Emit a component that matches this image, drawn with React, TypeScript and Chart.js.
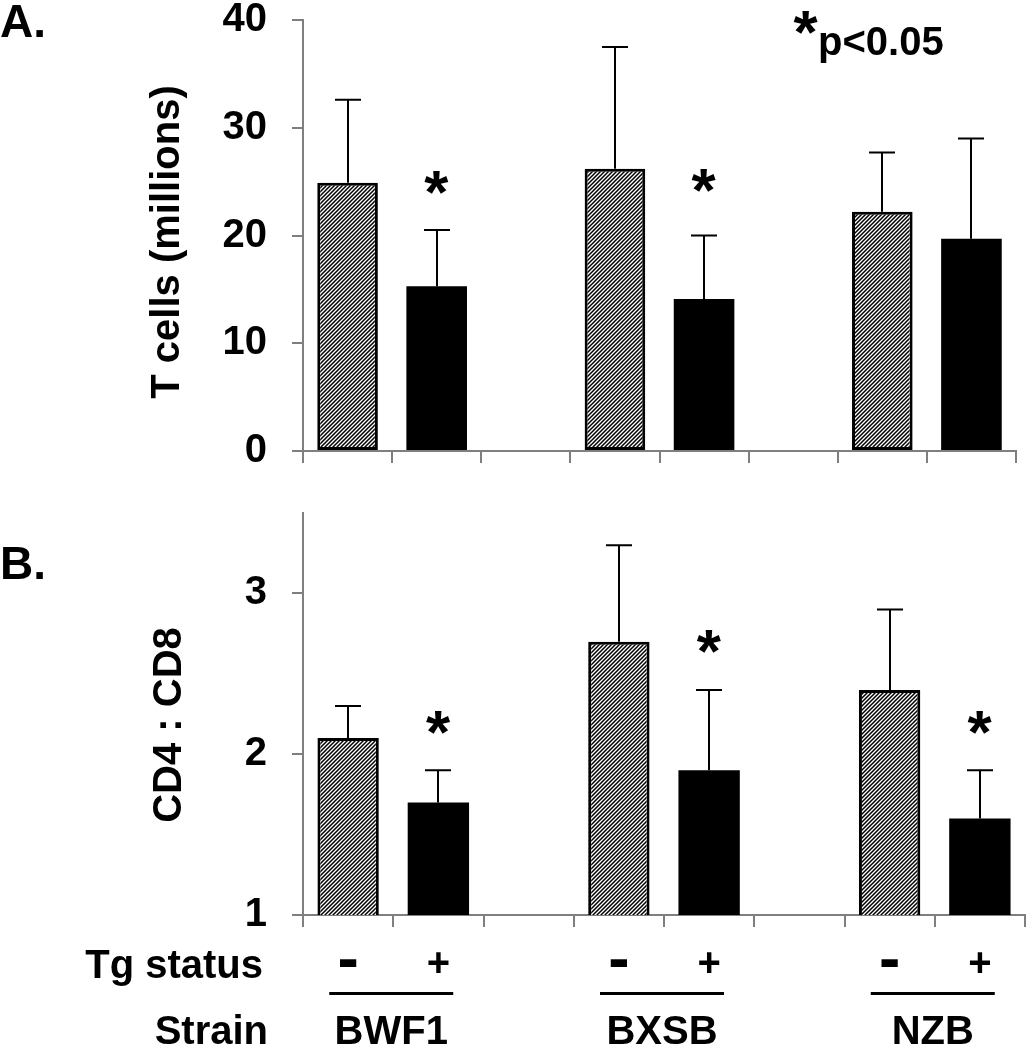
import React, { useEffect, useRef } from "react";
import { Chart, registerables } from "chart.js";

Chart.register(...registerables);

// ---------- data ----------
const strains = ["BWF1", "BXSB", "NZB"];
const tgLabels = ["-", "+", "", "-", "+", "", "-", "+"];

const tCellsMean = [24.9, 15.3, null, 26.2, 14.1, null, 22.2, 19.7];
const tCellsErr = [7.7, 5.2, null, 11.3, 5.9, null, 5.5, 9.3];
const tCellsStar = [null, 24.9, null, null, 25.1, null, null, null];
const tCellsTicks = [0, 10, 20, 30, 40];

const ratioMean = [2.1, 1.7, null, 2.7, 1.9, null, 2.4, 1.6];
const ratioErr = [0.2, 0.2, null, 0.6, 0.5, null, 0.5, 0.3];
const ratioStar = [null, 2.2, null, null, 2.7, null, null, 2.2];
const ratioTicks = [1, 2, 3];

const FONT = '"Liberation Sans", Arial, Helvetica, sans-serif';
const GRAY = "#7f7f7f";

function makeHatch(): CanvasPattern | string {
  const c = document.createElement("canvas");
  c.width = 4;
  c.height = 4;
  const g = c.getContext("2d");
  if (!g) return "#888";
  g.fillStyle = "#fff";
  g.fillRect(0, 0, 4, 4);
  g.strokeStyle = "#000";
  g.lineWidth = 1.5;
  g.beginPath();
  g.moveTo(-1, 5);
  g.lineTo(5, -1);
  g.moveTo(-1, 1);
  g.lineTo(1, -1);
  g.moveTo(3, 5);
  g.lineTo(5, 3);
  g.stroke();
  const p = g.createPattern(c, "repeat");
  return p || "#888";
}

function drawStarAt(ctx: CanvasRenderingContext2D, x: number, y: number, size: number) {
  ctx.save();
  ctx.font = `bold ${size}px ${FONT}`;
  ctx.textAlign = "left";
  ctx.textBaseline = "alphabetic";
  const m = ctx.measureText("*");
  const w = m.actualBoundingBoxRight + m.actualBoundingBoxLeft;
  const h = m.actualBoundingBoxAscent + m.actualBoundingBoxDescent;
  const dx = x - w / 2 + m.actualBoundingBoxLeft;
  const dy = y + h / 2 - m.actualBoundingBoxDescent;
  ctx.fillStyle = "#000";
  ctx.fillText("*", dx, dy);
  ctx.restore();
}

function errStarPlugin(means: (number | null)[], errs: (number | null)[], stars: (number | null)[]) {
  return {
    id: "errStar",
    afterDatasetsDraw(chart: any) {
      const ctx = chart.ctx as CanvasRenderingContext2D;
      const y = chart.scales.y;
      const meta = chart.getDatasetMeta(0);
      ctx.save();
      ctx.strokeStyle = "#000";
      ctx.lineWidth = 2;
      meta.data.forEach((bar: any, i: number) => {
        const v = means[i];
        const e = errs[i];
        if (v == null || e == null) return;
        const x = Math.round(bar.x);
        const yb = y.getPixelForValue(v);
        const yt = y.getPixelForValue(v + e);
        ctx.beginPath();
        ctx.moveTo(x, yb);
        ctx.lineTo(x, yt);
        ctx.moveTo(x - 13, yt);
        ctx.lineTo(x + 13, yt);
        ctx.stroke();
      });
      ctx.restore();
      meta.data.forEach((bar: any, i: number) => {
        const s = stars[i];
        if (s == null) return;
        drawStarAt(ctx, bar.x, y.getPixelForValue(s), 62);
      });
    },
  };
}

function baseOptions(
  yMin: number,
  yMax: number,
  ticks: number[],
  padTop: number,
  padRight: number,
  xHeight: number,
  showX: boolean
) {
  return {
    animation: false,
    responsive: false,
    layout: { padding: { top: padTop, right: padRight, left: 0, bottom: 0 } },
    plugins: { legend: { display: false }, tooltip: { enabled: false } },
    scales: {
      x: {
        type: "category",
        offset: true,
        grid: {
          display: true,
          offset: true,
          drawOnChartArea: false,
          drawTicks: true,
          tickLength: 12,
          color: GRAY,
          lineWidth: 2,
        },
        border: { display: true, color: GRAY, width: 2 },
        ticks: {
          display: showX,
          autoSkip: false,
          maxRotation: 0,
          minRotation: 0,
          padding: 18,
          color: "#000",
          font: (c: any) => {
            const dash = c && c.tick && c.tick.label === "-";
            return {
              family: FONT,
              size: dash ? 64 : 40,
              weight: "bold",
              lineHeight: dash ? "34px" : 1,
            };
          },
        },
        afterFit: (s: any) => {
          s.height = xHeight;
          s.paddingLeft = 0;
          s.paddingRight = 0;
        },
      },
      y: {
        type: "linear",
        min: yMin,
        max: yMax,
        grid: {
          display: true,
          drawOnChartArea: false,
          drawTicks: true,
          tickLength: 11,
          color: GRAY,
          lineWidth: 2,
        },
        border: { display: true, color: GRAY, width: 2 },
        ticks: {
          color: "#000",
          padding: 25,
          font: { family: FONT, size: 40, weight: "bold", lineHeight: 1 },
        },
        afterBuildTicks: (s: any) => {
          s.ticks = ticks.map((v) => ({ value: v }));
        },
        afterFit: (s: any) => {
          s.width = 303;
          s.paddingTop = 0;
          s.paddingBottom = 0;
        },
      },
    },
  };
}

export default function App() {
  const refA = useRef<HTMLCanvasElement | null>(null);
  const refB = useRef<HTMLCanvasElement | null>(null);

  useEffect(() => {
    Chart.defaults.font.family = FONT;
    const hatch = makeHatch();
    const bg = tgLabels.map((l) => (l === "-" ? hatch : "#000"));
    const bw = tgLabels.map((l) => (l === "-" ? 3 : 0));

    const textA = {
      id: "textA",
      afterDraw(chart: any) {
        const ctx = chart.ctx as CanvasRenderingContext2D;
        ctx.save();
        ctx.fillStyle = "#000";
        ctx.textBaseline = "alphabetic";
        ctx.textAlign = "left";
        ctx.font = `bold 46px ${FONT}`;
        ctx.fillText("A.", 0, 37);
        ctx.font = `bold 40px ${FONT}`;
        ctx.fillText("p<0.05", 818, 55);
        ctx.restore();
        drawStarAt(ctx, 806, 22, 62);
        ctx.save();
        ctx.translate(168, 242);
        ctx.rotate(-Math.PI / 2);
        ctx.font = `bold 40px ${FONT}`;
        ctx.textAlign = "center";
        ctx.textBaseline = "middle";
        ctx.fillStyle = "#000";
        ctx.fillText("T cells (millions)", 0, 0);
        ctx.restore();
      },
    };

    const textB = {
      id: "textB",
      afterDraw(chart: any) {
        const ctx = chart.ctx as CanvasRenderingContext2D;
        const x = chart.scales.x;
        ctx.save();
        ctx.fillStyle = "#000";
        ctx.textBaseline = "alphabetic";
        ctx.textAlign = "left";
        ctx.font = `bold 46px ${FONT}`;
        ctx.fillText("B.", 0, 99);
        ctx.font = `bold 40px ${FONT}`;
        ctx.textAlign = "right";
        ctx.fillText("Tg status", 263, 498);
        ctx.fillText("Strain", 268, 564);
        ctx.textAlign = "center";
        strains.forEach((s, i) => {
          const cx = (x.getPixelForValue(3 * i) + x.getPixelForValue(3 * i + 1)) / 2 - 2;
          ctx.fillText(s, cx, 564);
          ctx.fillRect(cx - 62, 512, 124, 3);
        });
        ctx.restore();
        ctx.save();
        ctx.translate(170, 245);
        ctx.rotate(-Math.PI / 2);
        ctx.font = `bold 40px ${FONT}`;
        ctx.textAlign = "center";
        ctx.textBaseline = "middle";
        ctx.fillStyle = "#000";
        ctx.fillText("CD4 : CD8", 0, 0);
        ctx.restore();
      },
    };

    const dsCommon = {
      backgroundColor: bg,
      borderColor: "#000",
      borderWidth: bw,
      borderSkipped: false,
      barPercentage: 0.68,
      categoryPercentage: 1,
    };

    const chartA = new Chart(refA.current as HTMLCanvasElement, {
      type: "bar",
      data: { labels: tgLabels, datasets: [{ data: tCellsMean, ...dsCommon } as any] },
      options: baseOptions(0, 40, tCellsTicks, 20, 11, 29, false) as any,
      plugins: [errStarPlugin(tCellsMean, tCellsErr, tCellsStar), textA],
    });

    const chartB = new Chart(refB.current as HTMLCanvasElement, {
      type: "bar",
      data: { labels: tgLabels, datasets: [{ data: ratioMean, ...dsCommon } as any] },
      options: baseOptions(1, 3.5, ratioTicks, 33, 2, 135, true) as any,
      plugins: [errStarPlugin(ratioMean, ratioErr, ratioStar), textB],
    });

    return () => {
      chartA.destroy();
      chartB.destroy();
    };
  }, []);

  return (
    <div style={{ position: "absolute", left: 0, top: 0, width: 1027, height: 1050, background: "#fff" }}>
      <canvas ref={refA} width={1027} height={480} style={{ position: "absolute", left: 0, top: 0, display: "block" }} />
      <canvas ref={refB} width={1027} height={570} style={{ position: "absolute", left: 0, top: 480, display: "block" }} />
    </div>
  );
}
